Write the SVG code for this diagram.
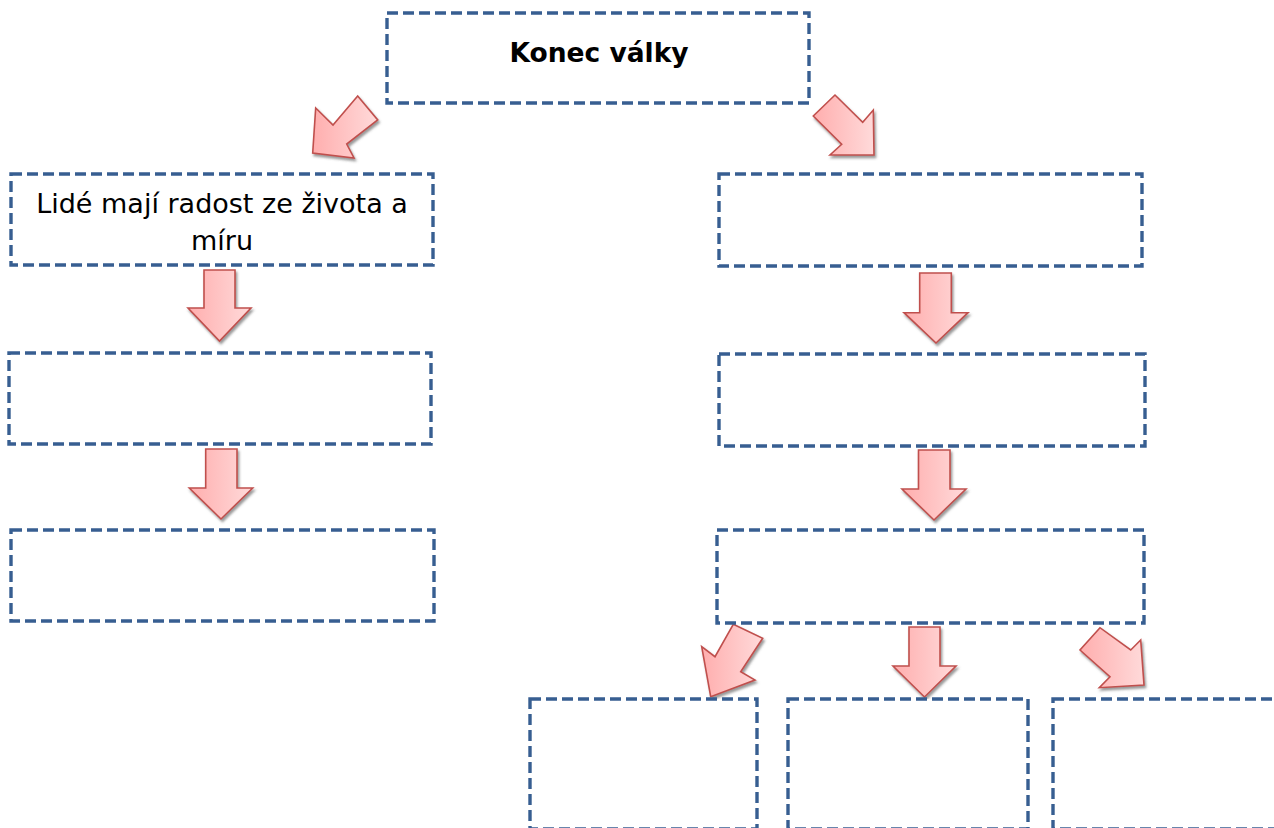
<svg xmlns="http://www.w3.org/2000/svg" width="1274" height="828" viewBox="0 0 1274 828">
<defs>
<linearGradient id="pink" x1="0" y1="0" x2="1" y2="0">
<stop offset="0" stop-color="#ffaeae"/>
<stop offset="1" stop-color="#ffdada"/>
</linearGradient>
<filter id="sh" x="-20%" y="-20%" width="150%" height="150%">
<feDropShadow dx="1.5" dy="2.5" stdDeviation="1.2" flood-color="#555" flood-opacity="0.6"/>
</filter>
</defs>
<style>
.box{fill:#fff;stroke:#375e91;stroke-width:3.4;stroke-dasharray:11 5}
.arr{fill:url(#pink);stroke:#c0504d;stroke-width:1.6;stroke-linejoin:miter;filter:url(#sh)}
.t{font-family:"DejaVu Sans","Verdana",sans-serif;font-size:27px;fill:#000;text-anchor:middle}
.b{font-weight:bold;font-size:26.5px}
</style>
<rect width="1274" height="828" fill="#fff"/>

<g id="connectors">
<polygon class="arr" points="357.7,96 377.7,120 346.7,144 354,158 312.7,153 315.7,108 333,125"/>
<polygon class="arr" points="835,95 813.3,116 841.7,144.3 830,155 874,155 873.3,110 862.7,122.3"/>
<polygon class="arr" points="204,270 235,270 235,308 251,308 219.5,341 188,308 204,308"/>
<polygon class="arr" points="205.7,449 237,449 237,488 252.7,488 221,519 189.3,488 205.7,488"/>
<polygon class="arr" points="919.7,273 951.3,273 951.3,312.7 968,312.7 936,343 904,312.7 919.7,312.7"/>
<polygon class="arr" points="918.5,450 950,450 950,489 966,489 934,520 902,489 918.5,489"/>
<polygon class="arr" points="909,627 940,627 940,666 956,666 924.5,697 893,666 909,666"/>
<polygon class="arr" points="733.3,624.3 762.7,638.3 740.7,671.7 755,680 710.7,696.7 701.7,646.7 715,656.7"/>
<polygon class="arr" points="1100,627.7 1080,650 1110,676.7 1099.3,687.7 1144,685 1140.7,640 1130.7,650"/>
</g>

<g id="n-top">
<rect class="box" x="387" y="13" width="422" height="90"/>
<text class="t b" x="599" y="62">Konec války</text>
</g>
<g id="n-l1">
<rect class="box" x="11" y="174" width="422" height="91"/>
<text class="t" x="222" y="213">Lidé mají radost ze života a</text>
<text class="t" x="222" y="250">míru</text>
</g>
<g id="n-l2">
<rect class="box" x="9" y="353" width="422" height="91"/>
</g>
<g id="n-l3">
<rect class="box" x="11" y="530" width="423" height="91"/>
</g>
<g id="n-r1">
<rect class="box" x="719" y="174" width="423" height="92"/>
</g>
<g id="n-r2">
<rect class="box" x="719" y="354" width="426" height="92"/>
</g>
<g id="n-r3">
<rect class="box" x="717" y="530" width="427" height="93"/>
</g>
<g id="n-b1">
<rect class="box" x="530" y="699" width="227" height="130"/>
</g>
<g id="n-b2">
<rect class="box" x="788" y="699" width="240" height="130"/>
</g>
<g id="n-b3">
<rect class="box" x="1053" y="699" width="240" height="130"/>
</g>
</svg>
